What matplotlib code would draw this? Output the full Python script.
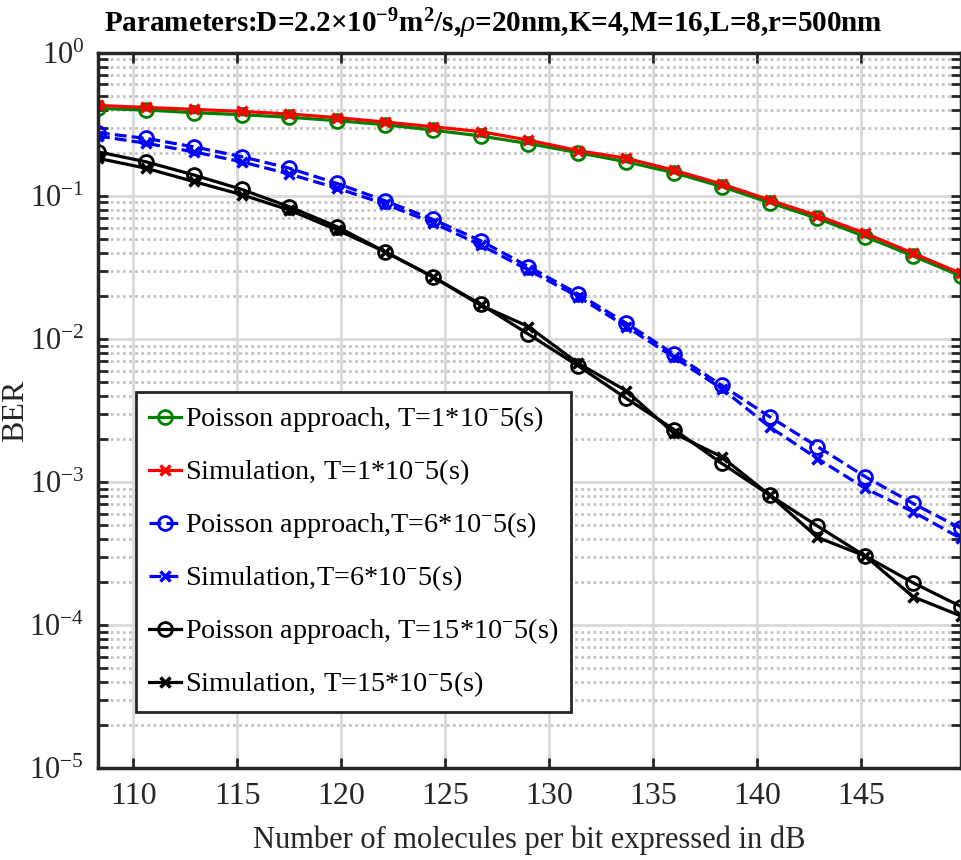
import matplotlib
matplotlib.use('Agg')
import matplotlib.pyplot as plt
from matplotlib.ticker import LogLocator, NullLocator, FixedLocator

plt.rcParams['font.family'] = ['Liberation Serif', 'DejaVu Serif']
plt.rcParams['mathtext.fontset'] = 'custom'
plt.rcParams['mathtext.rm'] = 'Liberation Serif'
plt.rcParams['mathtext.it'] = 'Liberation Serif:italic'
plt.rcParams['mathtext.bf'] = 'Liberation Serif:bold'

# number of molecules per bit (dB)
mol_db = [108.3, 110.6, 112.9, 115.2, 117.5, 119.8, 122.1, 124.4, 126.7, 129.0,
          131.4, 133.7, 136.0, 138.3, 140.6, 142.9, 145.2, 147.5, 149.8]

# T = 1e-5 s
ber_poisson_t1 = [0.408, 0.398, 0.381, 0.369, 0.354, 0.335, 0.314, 0.288, 0.262, 0.232,
                  0.200, 0.173, 0.145, 0.116, 0.0896, 0.0696, 0.0518, 0.0380, 0.0275]
ber_sim_t1 = [0.428, 0.415, 0.402, 0.389, 0.373, 0.352, 0.328, 0.304, 0.281, 0.245,
              0.207, 0.183, 0.151, 0.121, 0.0935, 0.0726, 0.0547, 0.0397, 0.0287]

# T = 6e-5 s
ber_poisson_t6 = [0.276, 0.252, 0.220, 0.188, 0.156, 0.122, 0.0924, 0.0685, 0.0486, 0.0320,
                  0.0206, 0.0129, 0.00784, 0.00474, 0.00286, 0.00177, 0.00109, 0.000709, 0.000475]
ber_sim_t6 = [0.262, 0.233, 0.203, 0.173, 0.142, 0.113, 0.0877, 0.0649, 0.0453, 0.0303,
              0.0197, 0.0122, 0.00744, 0.00449, 0.00243, 0.00146, 0.000904, 0.000620, 0.000404]

# T = 15e-5 s
ber_poisson_t15 = [0.203, 0.173, 0.140, 0.111, 0.0839, 0.0608, 0.0407, 0.0272, 0.0175, 0.0108,
                   0.00647, 0.00385, 0.00233, 0.00135, 0.000811, 0.000493, 0.000304, 0.000198, 0.000135]
ber_sim_t15 = [0.183, 0.156, 0.126, 0.102, 0.0796, 0.0577, 0.0407, 0.0272, 0.0172, 0.0122,
               0.00675, 0.00435, 0.00219, 0.00150, 0.000811, 0.000411, 0.000304, 0.000158, 0.000116]

x_ticks = [110, 115, 120, 125, 130, 135, 140, 145]

fig = plt.figure(figsize=(9.62, 8.6), dpi=100)
ax = fig.add_axes([0.1019, 0.1066, 0.897, 0.8321])

lw = 2.3
circ = dict(marker='o', markersize=10, markerfacecolor='none', markeredgewidth=2)
cross = dict(marker='x', markersize=7, markeredgewidth=2.5)

ax.semilogy(mol_db, ber_poisson_t1, '-', color='#008000', lw=lw,
            label='Poisson approach, T=1*10$^{-}$5(s)', **circ)
ax.semilogy(mol_db, ber_sim_t1, '-', color='#ff0000', lw=lw,
            label='Simulation, T=1*10$^{-}$5(s)', **cross)
ax.semilogy(mol_db, ber_poisson_t6, '--', color='#0000ff', lw=lw,
            label='Poisson approach,T=6*10$^{-}$5(s)', **circ)
ax.semilogy(mol_db, ber_sim_t6, '--', color='#0000ff', lw=lw,
            label='Simulation,T=6*10$^{-}$5(s)', **cross)
ax.semilogy(mol_db, ber_poisson_t15, '-', color='black', lw=lw,
            label='Poisson approach, T=15*10$^{-}$5(s)', **circ)
ax.semilogy(mol_db, ber_sim_t15, '-', color='black', lw=lw,
            label='Simulation, T=15*10$^{-}$5(s)', **cross)

ax.set_xlim(mol_db[0], mol_db[-1])
ax.set_ylim(1e-5, 1)
ax.xaxis.set_major_locator(FixedLocator(x_ticks))
ax.xaxis.set_minor_locator(NullLocator())
ax.yaxis.set_major_locator(LogLocator(base=10, numticks=10))
ax.yaxis.set_minor_locator(LogLocator(base=10, subs=range(2, 10), numticks=10))

ax.grid(True, which='major', color='#d9d9d9', lw=2, ls='-')
ax.grid(True, which='minor', axis='y', color='#c4c4c4', lw=2, ls=(0, (1, 1.2)))
ax.set_axisbelow(True)

ax.tick_params(which='both', direction='in', top=True, right=True,
               width=2, color='#262626', labelcolor='#262626')
ax.tick_params(axis='x', labelsize=23)
ax.tick_params(axis='y', labelsize=22)
ax.tick_params(which='major', length=7, pad=10)
ax.tick_params(which='minor', length=7)
for sp in ax.spines.values():
    sp.set_linewidth(2.5)
    sp.set_color('#262626')

ax.set_xlabel('Number of molecules per bit expressed in dB', fontsize=22,
              color='#262626', labelpad=10)
ax.set_ylabel('BER', fontsize=23, color='#262626')
ax.yaxis.set_label_coords(-0.079, 0.5)

fig.text(0.5125, 0.972,
         r'Parameters:D=2.2$\mathbf{\times}$10$^{\mathbf{-9}}$m$^{\mathbf{2}}$/s,$\rho$=20nm,K=4,M=16,L=8,r=500nm',
         fontsize=21, fontweight='bold', ha='center', va='center')

leg = ax.legend(loc='upper left', bbox_to_anchor=(0.1414, 0.5445),
                bbox_transform=fig.transFigure, fontsize=20.3, frameon=True,
                fancybox=False, edgecolor='#262626', framealpha=1,
                borderpad=0.45, labelspacing=0.82, handlelength=1.15,
                handletextpad=0.15, borderaxespad=0)
leg.get_frame().set_linewidth(2)

fig.savefig('out.png', dpi=100)
